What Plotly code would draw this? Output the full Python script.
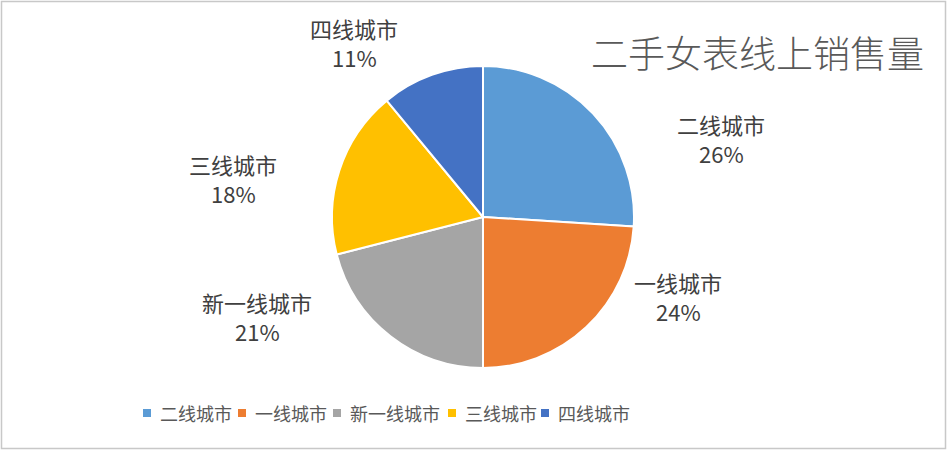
import plotly.graph_objects as go

categories = ["二线城市", "一线城市", "新一线城市", "三线城市", "四线城市"]
values = [26, 24, 21, 18, 11]
colors = ["#5B9BD5", "#ED7D31", "#A5A5A5", "#FFC000", "#4472C4"]
title_text = "二手女表线上销售量"

# layout only: label block centres and legend item positions (pixels)
label_px = [(721, 139), (678, 297), (257, 317), (233, 179), (354, 43)]
legend_px = [147, 242, 337, 452, 545]
legend_y = 413

W, H = 948, 450
FONT = "Noto Sans CJK SC, Noto Sans, sans-serif"

fig = go.Figure()
cx, cy, r = 483, 217, 151
fig.add_trace(go.Pie(
    labels=categories,
    values=values,
    sort=False,
    direction="clockwise",
    rotation=0,
    marker=dict(colors=colors, line=dict(color="white", width=2)),
    textinfo="none",
    hoverinfo="label+percent",
    showlegend=False,
    domain=dict(x=[(cx - r) / W, (cx + r) / W], y=[1 - (cy + r) / H, 1 - (cy - r) / H]),
))

total = sum(values)
annotations = []
shapes = []
for name, v, (px, py) in zip(categories, values, label_px):
    pct = round(v / total * 100)
    for txt, dy in ((name, -15), (f"{pct}%", 14)):
        annotations.append(dict(
            x=px / W, y=1 - (py + dy) / H, xref="paper", yref="paper",
            text=txt, showarrow=False,
            xanchor="center", yanchor="middle", align="center",
            font=dict(family=FONT, size=22, color="#404040"),
        ))

annotations.append(dict(
    x=757 / W, y=1 - 52 / H, xref="paper", yref="paper",
    text=title_text, showarrow=False, xanchor="center", yanchor="middle",
    font=dict(family=FONT, size=37, color="#595959", weight=300),
))

# legend drawn as squares + texts
for name, col, lx in zip(categories, colors, legend_px):
    s = 4
    shapes.append(dict(type="rect", xref="paper", yref="paper",
                       x0=(lx - s) / W, x1=(lx + s) / W,
                       y0=1 - (legend_y + s) / H, y1=1 - (legend_y - s) / H,
                       fillcolor=col, line=dict(width=0)))
    annotations.append(dict(
        x=(lx + 11) / W, y=1 - legend_y / H, xref="paper", yref="paper",
        text=name, showarrow=False, xanchor="left", yanchor="middle",
        font=dict(family=FONT, size=18, color="#595959"),
    ))

shapes.append(dict(type="rect", xref="paper", yref="paper",
                   x0=1.5 / W, x1=1 - 2.5 / W, y0=1.5 / H, y1=1 - 1.5 / H,
                   line=dict(color="#C8C8C8", width=1.5)))

fig.update_layout(
    width=W, height=H,
    margin=dict(l=0, r=0, t=0, b=0),
    paper_bgcolor="white",
    plot_bgcolor="white",
    annotations=annotations,
    shapes=shapes,
    showlegend=False,
)

fig.write_html("out.html")
